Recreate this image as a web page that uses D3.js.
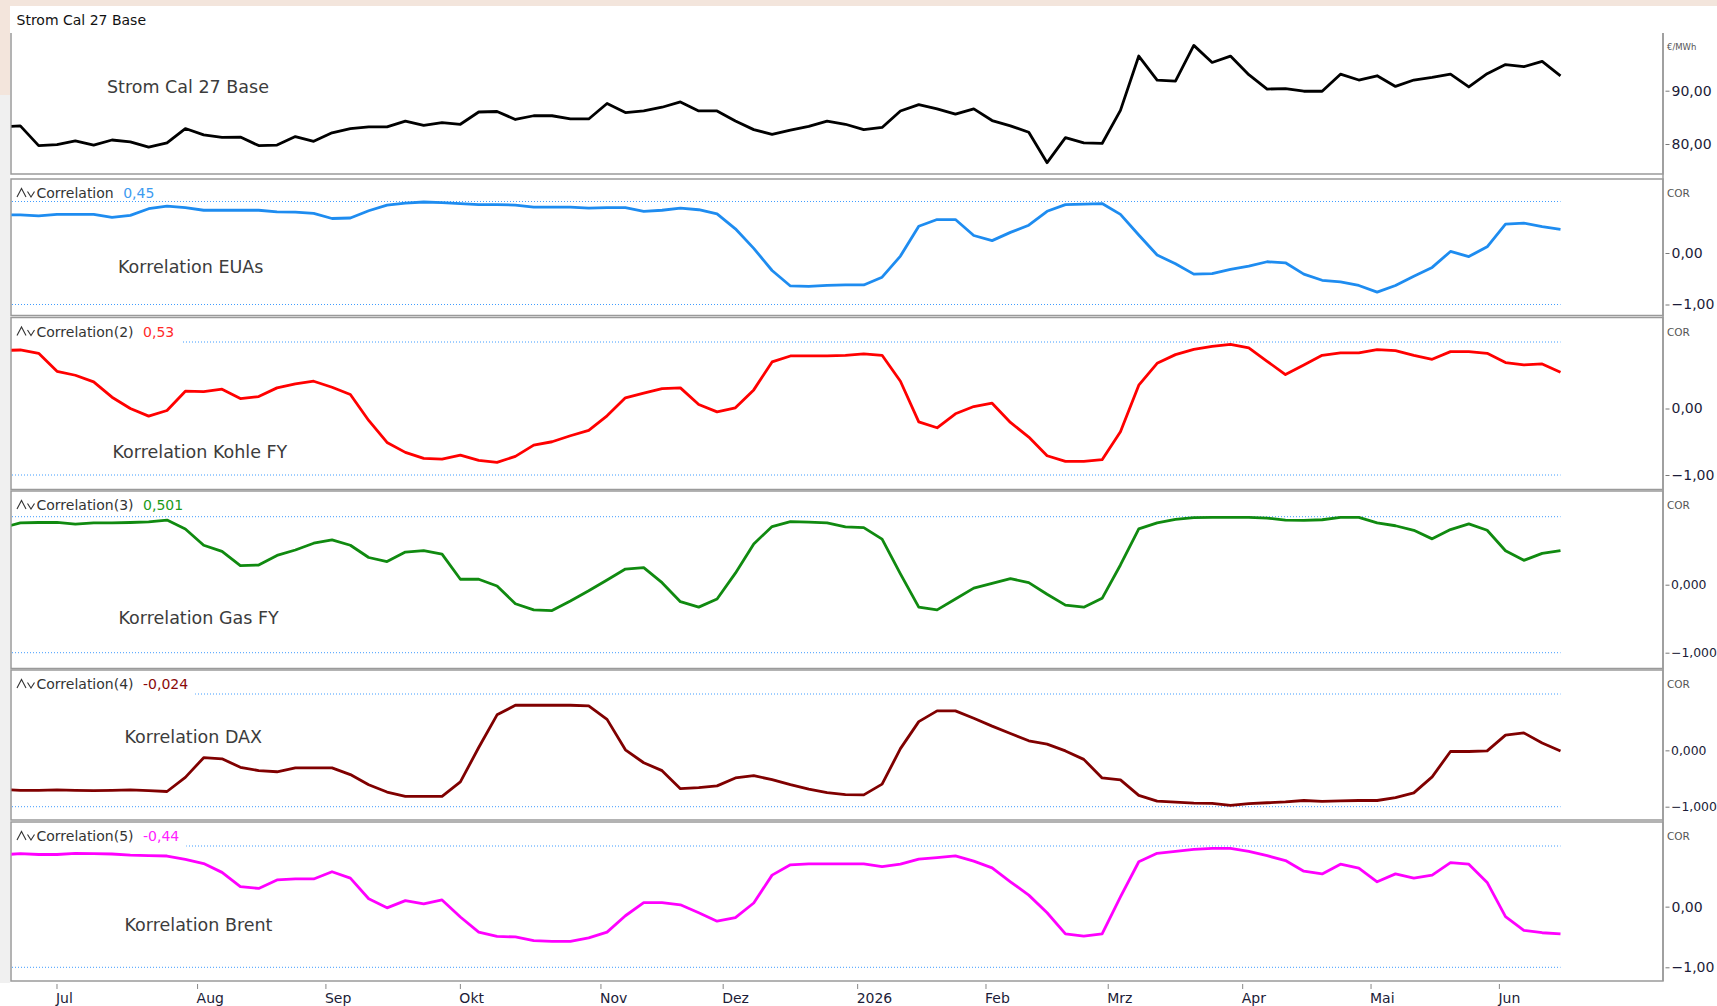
<!DOCTYPE html>
<html>
<head>
<meta charset="utf-8">
<script src="https://cdn.jsdelivr.net/npm/d3@7"></script>
<style>
  body { margin: 0; background: #fff; }
  svg { display: block; }
  text { font-family: "DejaVu Sans", sans-serif; }
</style>
</head>
<body>
<div id="chart"></div>
<script>
// trading calendar of the chart (weekdays minus exchange holidays)
var firstDay = "2025-06-19";
var lastDay = "2026-06-15";
var holidays = ["2025-12-25", "2026-01-01", "2026-04-03"];
var monthNames = ["Jan", "Feb", "Mrz", "Apr", "Mai", "Jun", "Jul", "Aug", "Sep", "Okt", "Nov", "Dez"];

// values were read every 3rd trading day (plus the first one)
var sampleIdx = [0].concat(d3.range(2, 255, 3));

var strom = [83.3,
  83.4, 79.7, 79.9, 80.6, 79.8, 80.75, 80.4, 79.4, 80.2, 82.9,
  81.7, 81.25, 81.3, 79.7, 79.8, 81.4, 80.5, 82.1, 82.9, 83.2,
  83.2, 84.3, 83.5, 84.0, 83.7, 86.0, 86.1, 84.6, 85.3, 85.3,
  84.7, 84.7, 87.6, 85.9, 86.2, 86.9, 87.9, 86.2, 86.2, 84.3,
  82.7, 81.8, 82.6, 83.3, 84.3, 83.7, 82.7, 83.1, 86.2, 87.4,
  86.6, 85.6, 86.6, 84.4, 83.4, 82.2, 76.5, 81.2, 80.2, 80.1,
  86.3, 96.5, 92.0, 91.8, 98.5, 95.3, 96.5, 93.0, 90.3, 90.4,
  89.9, 89.9, 93.1, 92.0, 92.8, 90.8, 92.0, 92.5, 93.1, 90.7,
  93.2, 94.9, 94.5, 95.5, 92.8];

var corEUA = [0.74,
  0.74, 0.72, 0.75, 0.75, 0.75, 0.69, 0.73, 0.86, 0.91, 0.88,
  0.83, 0.83, 0.83, 0.83, 0.80, 0.795, 0.77, 0.67, 0.68, 0.82,
  0.93, 0.97, 0.99, 0.98, 0.96, 0.94, 0.94, 0.93, 0.89, 0.89,
  0.89, 0.87, 0.88, 0.88, 0.81, 0.83, 0.87, 0.84, 0.76, 0.47,
  0.09, -0.34, -0.64, -0.65, -0.63, -0.62, -0.62, -0.47, -0.06, 0.52,
  0.65, 0.65, 0.34, 0.24, 0.40, 0.54, 0.81, 0.94, 0.95, 0.96,
  0.75, 0.35, -0.04, -0.21, -0.41, -0.40, -0.32, -0.255, -0.17, -0.19,
  -0.41, -0.53, -0.56, -0.63, -0.76, -0.63, -0.45, -0.28, 0.03, -0.07,
  0.12, 0.56, 0.58, 0.51, 0.46];

var corKohle = [0.875,
  0.88, 0.83, 0.56, 0.50, 0.40, 0.17, 0.00, -0.115, -0.03, 0.26,
  0.255, 0.29, 0.15, 0.18, 0.31, 0.37, 0.41, 0.32, 0.21, -0.18,
  -0.51, -0.66, -0.75, -0.76, -0.70, -0.78, -0.81, -0.72, -0.55, -0.50,
  -0.41, -0.33, -0.11, 0.16, 0.23, 0.30, 0.31, 0.06, -0.05, 0.01,
  0.28, 0.70, 0.79, 0.79, 0.79, 0.80,
  0.82, 0.80, 0.41, -0.20, -0.29, -0.08, 0.03, 0.08, -0.21, -0.43,
  -0.71, -0.795, -0.795, -0.77, -0.35, 0.35, 0.68, 0.81, 0.89, 0.935,
  0.965, 0.91, 0.71, 0.51, 0.655, 0.80, 0.836, 0.836, 0.885, 0.87,
  0.80, 0.74, 0.855, 0.856, 0.83, 0.69, 0.655, 0.67, 0.545];

var corGas = [0.86,
  0.91, 0.915, 0.915, 0.89, 0.91, 0.91, 0.915, 0.925, 0.95, 0.82,
  0.58, 0.49, 0.28, 0.29, 0.43, 0.51, 0.61, 0.66, 0.58, 0.40,
  0.34, 0.48, 0.50, 0.45, 0.08, 0.08, -0.02, -0.28, -0.37, -0.38,
  -0.24, -0.09, 0.07, 0.23, 0.25, 0.03, -0.25, -0.33, -0.21, 0.17,
  0.60, 0.855, 0.927, 0.92, 0.91, 0.85,
  0.84, 0.67, 0.16, -0.33, -0.37, -0.21, -0.05, 0.02, 0.09, 0.03,
  -0.14, -0.30, -0.33, -0.20, 0.29, 0.82, 0.91, 0.96, 0.985, 0.99,
  0.99, 0.99, 0.98, 0.95, 0.946, 0.955, 0.99, 0.99, 0.91, 0.867,
  0.80, 0.674, 0.81, 0.895, 0.80, 0.50, 0.358, 0.46, 0.50];

var corDAX = [-0.70,
  -0.71, -0.71, -0.70, -0.71, -0.715, -0.71, -0.70, -0.715, -0.73, -0.48,
  -0.13, -0.15, -0.30, -0.36, -0.38, -0.31, -0.31, -0.31, -0.43, -0.61,
  -0.74, -0.815, -0.815, -0.815, -0.56, 0.05, 0.63, 0.80, 0.80, 0.80,
  0.80, 0.79, 0.55, 0.01, -0.22, -0.36, -0.68, -0.66, -0.63, -0.49,
  -0.45, -0.52, -0.61, -0.69, -0.75, -0.785,
  -0.79, -0.60, 0.03, 0.51, 0.70, 0.70, 0.57, 0.43, 0.30, 0.17,
  0.11, -0.01, -0.16, -0.49, -0.525, -0.80, -0.90, -0.92, -0.935, -0.94,
  -0.975, -0.945, -0.93, -0.915, -0.89, -0.905, -0.895, -0.89, -0.89, -0.84,
  -0.755, -0.47, -0.02, -0.02, -0.01, 0.27, 0.31, 0.13, -0.01];

var corBrent = [0.86,
  0.875, 0.86, 0.86, 0.88, 0.875, 0.868, 0.85, 0.84, 0.835, 0.78,
  0.71, 0.565, 0.33, 0.30, 0.44, 0.457, 0.457, 0.575, 0.47, 0.13,
  -0.02, 0.10, 0.045, 0.11, -0.17, -0.42, -0.49, -0.50, -0.56, -0.572,
  -0.572, -0.515, -0.42, -0.15, 0.067, 0.067, 0.03, -0.10, -0.24, -0.18,
  0.06, 0.52, 0.69, 0.706, 0.706, 0.706,
  0.706, 0.66, 0.70, 0.785, 0.81, 0.836, 0.75, 0.64, 0.41, 0.19,
  -0.10, -0.45, -0.487, -0.45, 0.16, 0.74, 0.88, 0.91, 0.946, 0.96,
  0.96, 0.91, 0.84, 0.76, 0.585, 0.54, 0.70, 0.635, 0.41, 0.54,
  0.47, 0.52, 0.727, 0.70, 0.40, -0.165, -0.39, -0.43, -0.45];

var corSeries = [corEUA, corKohle, corGas, corDAX, corBrent];
var corColors = ["#1e8cf0", "#ff0000", "#108a10", "#800000", "#ff00ff"];
var valueColors = ["#3d9bf0", "#ff2a2a", "#1a9a1a", "#8a0a0a", "#ff20ff"];
var headerNames = ["Correlation", "Correlation(2)", "Correlation(3)", "Correlation(4)", "Correlation(5)"];
var headerValues = ["0,45", "0,53", "0,501", "-0,024", "-0,44"];
var panelNames = ["Korrelation EUAs", "Korrelation Kohle FY", "Korrelation Gas FY", "Korrelation DAX", "Korrelation Brent"];
var corDecimals = [2, 2, 3, 3, 2];
var stromTicks = [80, 90];
var corTicks = [0, -1];

// ---- layout ---------------------------------------------------------------
var width = 1717, height = 1006;
var left = 11, right = 1663;
var mainPanel = {top: 33, bottom: 174, y80: 144, y90: 90.7, labelX: 107, labelY: 93};
var corPanels = [
  {top: 179, bottom: 315.5, lo: 304.5, hi: 201.5, labelX: 118, labelY: 272.5, hideGrid: false},
  {top: 317.5, bottom: 489.5, lo: 475, hi: 342, labelX: 112.5, labelY: 457.5, hideGrid: true},
  {top: 491, bottom: 668.5, lo: 652.7, hi: 516.7, labelX: 118.5, labelY: 624, hideGrid: false},
  {top: 670, bottom: 820, lo: 806.7, hi: 694, labelX: 124.5, labelY: 742.5, hideGrid: true},
  {top: 822, bottom: 981, lo: 967.3, hi: 846, labelX: 124.5, labelY: 930.5, hideGrid: true}
];

var de = d3.formatLocale({decimal: ",", thousands: ".", grouping: [3], currency: ["", " €"]});

var parse = d3.timeParse("%Y-%m-%d");
var iso = d3.timeFormat("%Y-%m-%d");
var tradingDays = d3.timeDay
  .range(parse(firstDay), d3.timeDay.offset(parse(lastDay), 1))
  .filter(function (d) {
    return d.getDay() !== 0 && d.getDay() !== 6 && holidays.indexOf(iso(d)) < 0;
  });

var monthStarts = [];
tradingDays.forEach(function (d, i) {
  if (i > 0 && d.getMonth() !== tradingDays[i - 1].getMonth()) {
    monthStarts.push({idx: i, label: d.getMonth() === 0 ? String(d.getFullYear()) : monthNames[d.getMonth()]});
  }
});

var x = d3.scaleLinear().domain([0, tradingDays.length - 1]).range([8.1, 1560.5]);

var svg = d3.select("#chart").append("svg")
  .attr("width", width)
  .attr("height", height);

// window chrome around the chart
svg.append("rect").attr("x", 0).attr("y", 0).attr("width", width).attr("height", 6).attr("fill", "#f3e5dc");
svg.append("rect").attr("x", 0).attr("y", 0).attr("width", 10).attr("height", 95).attr("fill", "#f3e5dc");
svg.append("rect").attr("x", 0).attr("y", 95).attr("width", 10).attr("height", 888).attr("fill", "#f0f0f0");

svg.append("defs").append("clipPath").attr("id", "plotclip")
  .append("rect").attr("x", left + 0.5).attr("y", 0).attr("width", right - left - 1).attr("height", height);

svg.append("text")
  .attr("x", 16.5).attr("y", 24.5)
  .attr("font-size", 14).attr("fill", "#111")
  .text("Strom Cal 27 Base");

// ---- main price panel -------------------------------------------------------
var yMain = d3.scaleLinear().domain([80, 90]).range([mainPanel.y80, mainPanel.y90]);

svg.append("path")
  .attr("d", "M" + left + "," + mainPanel.top + "V" + mainPanel.bottom + "H" + right + "V" + mainPanel.top)
  .attr("fill", "none").attr("stroke", "#9a9a9a").attr("stroke-width", 1.5);

svg.append("text")
  .attr("x", mainPanel.labelX).attr("y", mainPanel.labelY)
  .attr("font-size", 17.5).attr("fill", "#3c3c3c")
  .text("Strom Cal 27 Base");

svg.append("path")
  .datum(strom)
  .attr("clip-path", "url(#plotclip)")
  .attr("fill", "none")
  .attr("stroke", "#000")
  .attr("stroke-width", 2.8)
  .attr("stroke-linejoin", "round")
  .attr("d", d3.line()
    .x(function (d, i) { return x(sampleIdx[i]); })
    .y(function (d) { return yMain(d); }));

var mainAxis = svg.append("g")
  .attr("transform", "translate(" + (right + 2.5) + ",0)")
  .call(d3.axisRight(yMain).tickValues(stromTicks).tickSize(4).tickPadding(2).tickFormat(de.format(".2f")));
mainAxis.select(".domain").remove();
mainAxis.selectAll("line").attr("stroke", "#777");
mainAxis.selectAll("text").attr("font-size", 14).attr("fill", "#1c1c38").attr("font-family", "DejaVu Sans");

svg.append("text")
  .attr("x", right + 4).attr("y", 50)
  .attr("font-size", 8.5).attr("fill", "#555")
  .text("€/MWh");

// ---- correlation panels ---------------------------------------------------
corPanels.forEach(function (p, k) {
  var y = d3.scaleLinear().domain([-1, 1]).range([p.lo, p.hi]);
  var g = svg.append("g");

  g.append("rect")
    .attr("x", left).attr("y", p.top)
    .attr("width", right - left).attr("height", p.bottom - p.top)
    .attr("fill", "#fff").attr("stroke", "#9a9a9a").attr("stroke-width", 1.5);

  // dotted +1 / -1 guides, running to the last data point
  [1, -1].forEach(function (v) {
    g.append("line")
      .attr("x1", left + 1).attr("x2", x(sampleIdx[sampleIdx.length - 1]))
      .attr("y1", y(v)).attr("y2", y(v))
      .attr("stroke", "#3f9cff").attr("stroke-width", 1)
      .attr("stroke-dasharray", "1,2");
  });

  g.append("text")
    .attr("x", p.labelX).attr("y", p.labelY)
    .attr("font-size", 17.5).attr("fill", "#3c3c3c")
    .text(panelNames[k]);

  g.append("path")
    .datum(corSeries[k])
    .attr("clip-path", "url(#plotclip)")
    .attr("fill", "none")
    .attr("stroke", corColors[k])
    .attr("stroke-width", 2.8)
    .attr("stroke-linejoin", "round")
    .attr("d", d3.line()
      .x(function (d, i) { return x(sampleIdx[i]); })
      .y(function (d) { return y(d); }));

  // header: indicator icon, name and last value
  var base = p.top + 19;
  var header = g.append("g");
  var bg = header.append("rect").attr("fill", "#fff");
  header.append("path")
    .attr("d", "M17," + (base - 1) + "L21.5," + (base - 9.5) + "L26," + (base - 1) +
      "M27.5," + (base - 6.5) + "L31," + (base - 1) + "L34.5," + (base - 6.5))
    .attr("fill", "none").attr("stroke", "#333").attr("stroke-width", 1.1);
  var name = header.append("text")
    .attr("x", 36.5).attr("y", base)
    .attr("font-size", 14).attr("fill", "#333")
    .text(headerNames[k]);
  var nameEnd = 36.5 + name.node().getComputedTextLength();
  var val = header.append("text")
    .attr("x", nameEnd + 9.5).attr("y", base)
    .attr("font-size", 14).attr("fill", valueColors[k])
    .text(headerValues[k]);
  var valEnd = nameEnd + 9.5 + val.node().getComputedTextLength();
  if (p.hideGrid) {
    bg.attr("x", left + 1).attr("y", p.top + 2).attr("width", valEnd + 6 - left).attr("height", 24);
  }

  var axis = svg.append("g")
    .attr("transform", "translate(" + (right + 2.5) + ",0)")
    .call(d3.axisRight(y).tickValues(corTicks).tickSize(4).tickPadding(corDecimals[k] > 2 ? 1.5 : 2)
      .tickFormat(de.format("." + corDecimals[k] + "f")));
  axis.select(".domain").remove();
  axis.selectAll("line").attr("stroke", "#777");
  axis.selectAll("text")
    .attr("font-size", corDecimals[k] > 2 ? 12.4 : 14)
    .attr("fill", "#1c1c38").attr("font-family", "DejaVu Sans");

  svg.append("text")
    .attr("x", right + 4).attr("y", p.top + 18)
    .attr("font-size", 10.5).attr("fill", "#555")
    .text("COR");
});

// right scale line
svg.append("line")
  .attr("x1", right).attr("x2", right)
  .attr("y1", mainPanel.top).attr("y2", corPanels[corPanels.length - 1].bottom)
  .attr("stroke", "#9a9a9a").attr("stroke-width", 1.5);

// ---- time axis ----------------------------------------------------------------
var xAxis = svg.append("g").selectAll("g")
  .data(monthStarts)
  .join("g")
  .attr("transform", function (d) { return "translate(" + x(d.idx) + ",0)"; });
xAxis.append("line")
  .attr("y1", 984).attr("y2", 989)
  .attr("stroke", "#888");
xAxis.append("text")
  .attr("x", -1).attr("y", 1002.5)
  .attr("font-size", 14).attr("fill", "#1c1c38")
  .text(function (d) { return d.label; });
</script>
</body>
</html>
